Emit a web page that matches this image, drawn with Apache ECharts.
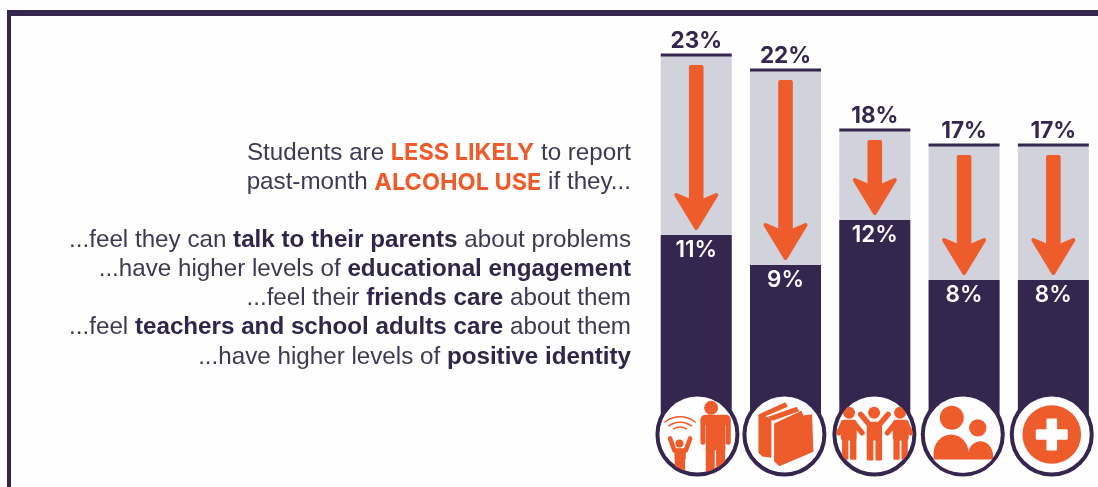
<!DOCTYPE html>
<html>
<head>
<meta charset="utf-8">
<style>html,body{margin:0;padding:0;background:#fefefe}#chart{width:1098px;height:487px}</style>
<script src="https://cdn.jsdelivr.net/npm/echarts@6/dist/echarts.min.js"></script>
</head>
<body>
<div id="chart"></div>
<script>
// Past-month alcohol use by protective factor
const categories = ['Talk to parents', 'Educational engagement', 'Friends care', 'Teachers and adults care', 'Positive identity'];
const withoutFactor = [23, 22, 18, 17, 17];
const withFactor = [11, 9, 12, 8, 8];
const stemDepth = [-2, -2, -2, -2, -2];

const headingLines = [
  '{n|Students are }{o|LESS LIKELY}{n| to report}',
  '{n|past-month }{o|ALCOHOL USE}{n| if they...}'
];
const factorLines = [
  '{n|...feel they can }{b|talk to their parents}{n| about problems}',
  '{n|...have higher levels of }{b|educational engagement}',
  '{n|...feel their }{b|friends care}{n| about them}',
  '{n|...feel }{b|teachers and school adults care}{n| about them}',
  '{n|...have higher levels of }{b|positive identity}'
];

const DARK = '#35264f', GREY = '#d2d2dc', ORANGE = '#ee5c2c', TEXT = '#3f3853';
const BAR_W = 71;
const sans = '"Liberation Sans", Arial, sans-serif';
const display = 'Inter, "Open Sans", sans-serif';

const richStyles = {
  n: { fontFamily: sans, fontSize: 24.2, fill: TEXT, color: TEXT },
  b: { fontFamily: sans, fontSize: 24.2, fontWeight: 'bold', fill: '#30264a', color: '#30264a' },
  o: { fontFamily: display, fontSize: 23.5, fontWeight: 700, fill: ORANGE, color: ORANGE }
};

function textLine(str, y) {
  return { type: 'text', style: { text: str, x: 631, y: y, align: 'right', verticalAlign: 'middle', rich: richStyles } };
}

// Icon helpers: shapes are authored on a 3x grid and scaled around the given origin
function iconKit(ox, oy) {
  const X = v => (v - ox) / 3, Y = v => (v - oy) / 3, L = v => v / 3;
  const fill = { fill: ORANGE };
  return {
    dot: (x, y, r) => ({ type: 'circle', shape: { cx: X(x), cy: Y(y), r: L(r) }, style: fill }),
    box: (x, y, w, h, r) => ({ type: 'rect', shape: { x: X(x), y: Y(y), width: L(w), height: L(h), r: L(r || 0) }, style: fill }),
    poly: pts => ({ type: 'polygon', shape: { points: pts.map(p => [X(p[0]), Y(p[1])]) }, style: fill }),
    limb: (pts, w) => ({ type: 'polyline', shape: { points: pts.map(p => [X(p[0]), Y(p[1])]) }, style: { stroke: ORANGE, fill: null, lineWidth: L(w), lineCap: 'round', lineJoin: 'round' } }),
    wave: (x, y, r, deg) => ({ type: 'arc', shape: { cx: X(x), cy: Y(y), r: L(r), startAngle: (-90 - deg) * Math.PI / 180, endAngle: (-90 + deg) * Math.PI / 180, clockwise: true }, style: { stroke: ORANGE, fill: null, lineWidth: 1.5 } }),
    oval: (x, y, rx, ry) => ({ type: 'ellipse', shape: { cx: X(x), cy: Y(y), rx: L(rx), ry: L(ry) }, style: fill }),
    mask: (x, y, w, h) => ({ type: 'rect', shape: { x: X(x), y: Y(y), width: L(w), height: L(h) }, style: { fill: '#fefefe' } })
  };
}

const iconBuilders = [
  function parentAndChild() {
    const k = iconKit(172, 165);
    return [
      k.wave(120, 185, 73, 40), k.wave(120, 185, 57, 38), k.wave(120, 185, 42, 30),
      k.dot(118, 192, 12),
      k.limb([[90, 177], [103, 213], [137, 213], [150, 177]], 14),
      k.box(103, 208, 34, 32, 3), k.box(104, 236, 31, 50),
      k.dot(213, 85, 21),
      k.box(181, 106, 91, 30, 15),
      k.box(181, 118, 15, 78, 7), k.box(257, 118, 15, 78, 7),
      k.box(197, 112, 59, 100), k.box(197, 205, 27, 80), k.box(228, 205, 27, 80)
    ];
  },
  function books() {
    const k = iconKit(433, 163);
    return [
      k.poly([[355, 103], [436, 66], [443, 80], [376, 108], [394, 116], [394, 233], [367, 229], [355, 218]]),
      k.poly([[384, 110], [470, 80], [477, 93], [398, 122]]),
      k.poly([[402, 130], [484, 92], [490, 106], [516, 102], [520, 215], [418, 258], [402, 243]])
    ];
  },
  function threeFriends() {
    const k = iconKit(703, 162);
    return [
      k.dot(702, 97, 18),
      k.limb([[662, 102], [688, 132], [718, 132], [744, 102]], 17),
      k.box(680, 125, 46, 55, 4), k.box(680, 172, 20, 68, 3), k.box(706, 172, 20, 68, 3),
      k.dot(627, 97, 18),
      k.limb([[642, 128], [666, 157]], 16), k.limb([[610, 128], [596, 157]], 16),
      k.box(602, 118, 48, 62, 10), k.box(606, 172, 19, 66, 3), k.box(630, 172, 19, 66, 3),
      k.dot(780, 97, 18),
      k.limb([[766, 128], [742, 157]], 16), k.limb([[798, 128], [812, 157]], 16),
      k.box(758, 118, 48, 62, 10), k.box(760, 172, 19, 66, 3), k.box(784, 172, 19, 66, 3)
    ];
  },
  function peoplePair() {
    const k = iconKit(968, 160);
    return [
      k.dot(935, 110, 36), k.dot(1013, 140, 26),
      k.oval(933, 218, 53, 58), k.oval(1021, 224, 38, 44),
      k.mask(870, 235, 200, 40)
    ];
  },
  function healthPlus() {
    const k = iconKit(1235, 160);
    const plus = s => Object.assign(s, { style: { fill: '#fefefe' } });
    return [
      k.dot(1235, 160, 88),
      plus(k.box(1187, 144, 96, 32, 4)),
      plus(k.box(1219, 112, 32, 96, 4))
    ];
  }
];
const badgeNudgeX = [1.2, -1.1, -0.4, -1.3, -1.6];

const chart = echarts.init(document.getElementById('chart'), null, { renderer: 'canvas' });
chart.setOption({
  backgroundColor: '#fefefe',
  animation: false,
  tooltip: { show: false },
  legend: { show: false },
  grid: { left: 651.6, width: 446.4, top: 10, bottom: 42 },
  xAxis: { type: 'category', data: categories, show: false },
  yAxis: { type: 'value', min: -3, max: 26, show: false },
  graphic: { elements: [
    { type: 'rect', shape: { x: 7, y: 10, width: 1091, height: 6 }, style: { fill: DARK } },
    { type: 'rect', shape: { x: 7, y: 10, width: 4, height: 477 }, style: { fill: DARK } },
    textLine(headingLines[0], 153), textLine(headingLines[1], 182.5),
    ...factorLines.map((t, i) => textLine(t, [240.5, 269.5, 298.5, 327.5, 357][i]))
  ] },
  series: [
    {
      name: 'Without the factor', type: 'bar', data: withoutFactor, barWidth: BAR_W, barGap: '-100%',
      itemStyle: { color: GREY }, z: 2,
      label: { show: true, position: 'top', distance: 2, formatter: '{c}%', fontFamily: display, fontSize: 22.5, fontWeight: 700, color: DARK }
    },
    {
      name: 'With the factor', type: 'bar', data: withFactor, barWidth: BAR_W, barGap: '-100%',
      itemStyle: { color: DARK }, z: 3,
      label: { show: true, position: 'insideTop', distance: 3.5, formatter: '{c}%', fontFamily: display, fontSize: 22.5, fontWeight: 600, color: '#ffffff' }
    },
    {
      name: 'Stem', type: 'bar', data: stemDepth, barWidth: BAR_W, barGap: '-100%',
      itemStyle: { color: DARK }, z: 3, silent: true
    },
    {
      // Cap rule and drop arrow on each bar, spanning the two values
      name: 'Change', type: 'custom', coordinateSystem: 'cartesian2d', clip: false, z: 4,
      encode: { x: 0, y: [1, 2] },
      data: withoutFactor.map((v, i) => [i, v, withFactor[i]]),
      renderItem(params, api) {
        const top = api.coord([api.value(0), api.value(1)]);
        const low = api.coord([api.value(0), api.value(2)]);
        const cx = top[0], y0 = top[1] + 10, tip = low[1] - 7, head = tip - 33;
        return { type: 'group', children: [
          { type: 'rect', shape: { x: cx - BAR_W / 2, y: top[1] - 1.5, width: BAR_W, height: 3 }, style: { fill: DARK } },
          { type: 'rect', shape: { x: cx - 7.3, y: y0, width: 14.6, height: head - y0 + 10, r: 2 }, style: { fill: ORANGE } },
          { type: 'polygon', shape: { points: [[cx - 20, head], [cx - 6, head + 6], [cx + 6, head + 6], [cx + 20, head], [cx, tip]] },
            style: { fill: ORANGE, stroke: ORANGE, lineWidth: 4, lineJoin: 'round' } }
        ] };
      }
    },
    {
      // Round icon badge at the foot of each bar
      name: 'Badges', type: 'custom', coordinateSystem: 'cartesian2d', clip: false, z: 5,
      encode: { x: 0, y: 1 },
      data: categories.map((c, i) => [i, -2.3]),
      renderItem(params, api) {
        const i = api.value(0);
        const p = api.coord([i, api.value(1)]);
        return { type: 'group', x: p[0] + badgeNudgeX[i], y: p[1], children: [
          { type: 'circle', shape: { cx: 0, cy: 0, r: 40 }, style: { fill: '#fefefe', stroke: DARK, lineWidth: 4 } },
          { type: 'group', clipPath: { type: 'circle', shape: { cx: 0, cy: 0, r: 38.5 } }, children: iconBuilders[i]() }
        ] };
      }
    }
  ]
});
</script>
</body>
</html>
